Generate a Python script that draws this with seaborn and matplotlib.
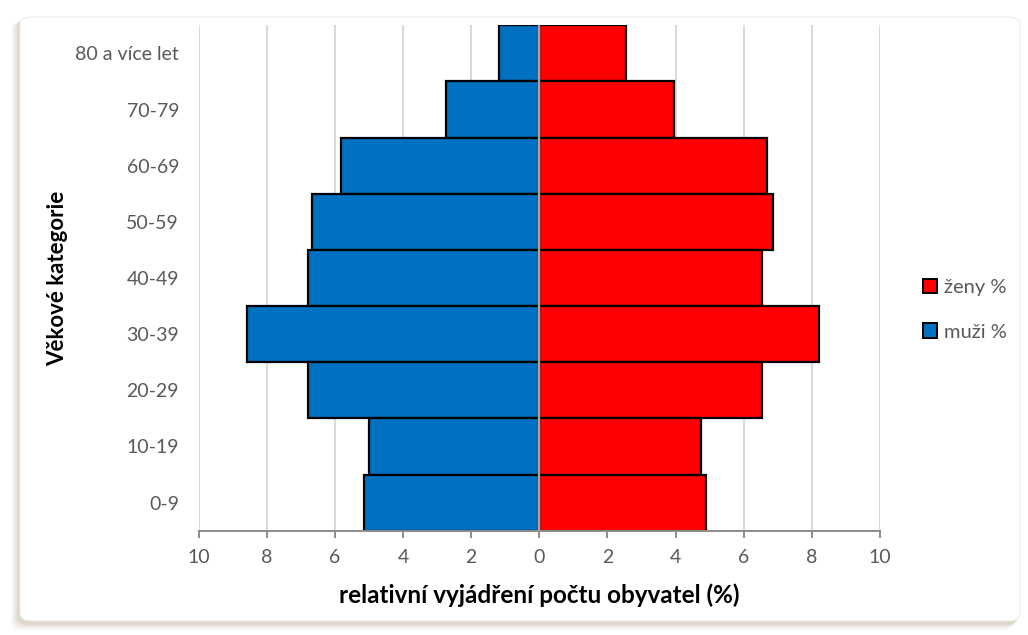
import matplotlib
matplotlib.use("Agg")
import matplotlib.pyplot as plt
from matplotlib.patches import FancyBboxPatch
import seaborn as sns
import pandas as pd

# Age groups, top to bottom
categories = ["80 a více let", "70-79", "60-69", "50-59", "40-49",
              "30-39", "20-29", "10-19", "0-9"]
# Share of population (%) per age group
zeny = [2.54, 3.95, 6.69, 6.85, 6.55, 8.21, 6.54, 4.74, 4.90]
muzi = [1.18, 2.74, 5.82, 6.66, 6.78, 8.58, 6.80, 4.99, 5.13]
xticks = [-10, -8, -6, -4, -2, 0, 2, 4, 6, 8, 10]

sns.set_theme(style="white")
plt.rcParams["font.family"] = ["Lato", "DejaVu Sans"]

df = pd.DataFrame({
    "kategorie": categories * 2,
    "hodnota": zeny + [-v for v in muzi],
    "pohlavi": ["ženy %"] * len(categories) + ["muži %"] * len(categories),
})

W, H = 1028, 635
fig = plt.figure(figsize=(W / 100, H / 100), dpi=100)
fig.patch.set_facecolor("white")

# Rounded card with a soft beige shadow on the left and bottom
for i, a in enumerate([0.10, 0.15, 0.22, 0.32]):
    d = 9 - 2 * i
    fig.patches.append(FancyBboxPatch(
        ((20 - d) / W, (13 - d * 0.9) / H), (1000 + d * 0.3) / W, (605 + d * 0.3) / H,
        boxstyle="round,pad=0,rounding_size=0.012", transform=fig.transFigure,
        facecolor="#cbc1a8", edgecolor="none", alpha=a, zorder=-3))
fig.patches.append(FancyBboxPatch(
    (20 / W, 14 / H), 1000 / W, 604 / H,
    boxstyle="round,pad=0,rounding_size=0.012", transform=fig.transFigure,
    facecolor="white", edgecolor="#efece4", linewidth=0.8, zorder=-2))

ax = fig.add_axes([198.5 / W, 1 - 530.7 / H, (880 - 198.5) / W, (530.7 - 25.3) / H])
ax.set_facecolor("none")

sns.barplot(data=df, x="hodnota", y="kategorie", hue="pohlavi",
            order=categories, hue_order=["ženy %", "muži %"],
            palette={"ženy %": "#ff0000", "muži %": "#0070c0"},
            dodge=False, width=1.0, orient="h",
            edgecolor="black", linewidth=1.6, saturation=1, ax=ax, zorder=2)

ax.set_xlim(-10, 10)
ax.set_ylim(len(categories) - 0.5, -0.5)
ax.set_xticks(xticks)
ax.set_xticklabels([str(abs(t)) for t in xticks])
ax.xaxis.grid(True, color="#d9d9d9", linewidth=1.4, zorder=0)
ax.set_axisbelow(True)

for s in ["top", "right", "left"]:
    ax.spines[s].set_visible(False)
ax.spines["bottom"].set_color("#8c8c8c")
ax.spines["bottom"].set_linewidth(1.4)
ax.axvline(0, color="#a6a6a6", linewidth=1.6, zorder=5)

ax.tick_params(axis="x", which="major", bottom=True, length=5, width=1.4,
               color="#8c8c8c", labelsize=14, labelcolor="#595959", pad=8)
ax.tick_params(axis="y", left=False, length=0, labelsize=14,
               labelcolor="#595959", pad=14)

ax.set_xlabel("relativní vyjádření počtu obyvatel (%)", fontsize=17.5,
              fontweight="bold", color="black", labelpad=13)
ax.set_ylabel("Věkové kategorie", fontsize=16, fontweight="bold",
              color="black", labelpad=5)

handles, labels = ax.get_legend_handles_labels()
for h in handles:
    h.set_edgecolor("black")
    h.set_linewidth(1.4)
leg = ax.legend(handles, labels, loc="center left", bbox_to_anchor=(1.036, 0.437),
                frameon=False, fontsize=14.5, handlelength=0.72, handleheight=0.72,
                handletextpad=0.35, labelspacing=1.35, labelcolor="#595959")

fig.savefig("out.png", dpi=100)
